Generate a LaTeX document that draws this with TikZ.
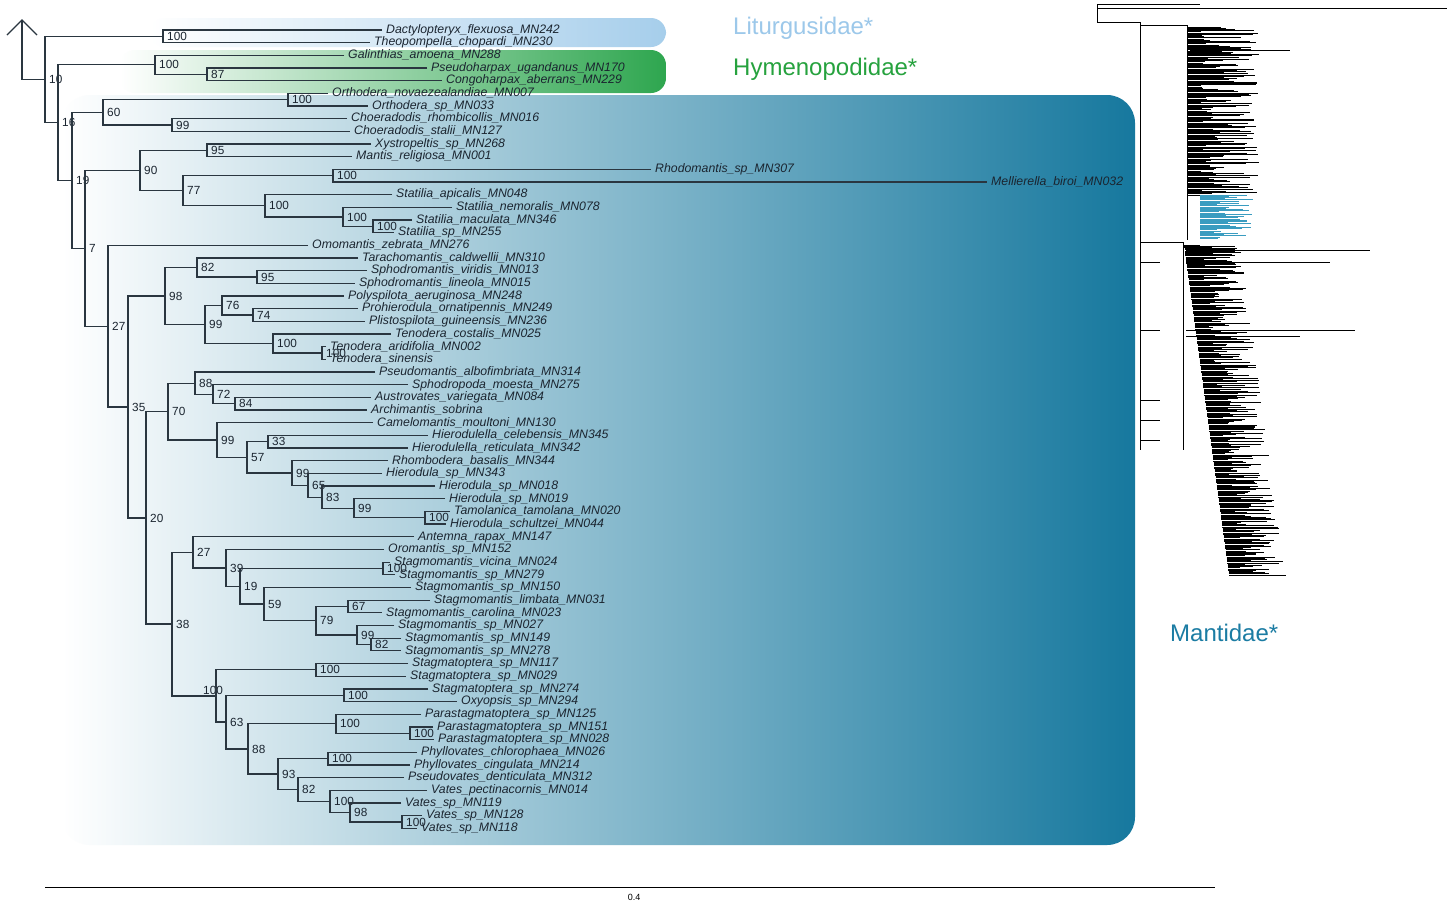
\documentclass[tikz,border=0pt]{standalone}
\usepackage{fontspec}
\setmainfont{Liberation Sans}
\definecolor{brc}{HTML}{2A3640}
\definecolor{txc}{HTML}{1B2530}
\definecolor{mant}{HTML}{16789E}
\definecolor{hym}{HTML}{2EA64F}
\definecolor{lit}{HTML}{A6CEEB}
\definecolor{litt}{HTML}{9CC8EA}
\definecolor{hymt}{HTML}{26A23E}
\definecolor{mantt}{HTML}{1B7CA3}
\definecolor{bluec}{HTML}{3A9CC0}
\tikzset{
 br/.style={draw=brc, line width=1.3pt},
 leaf/.style={anchor=west, inner xsep=4pt, inner ysep=0pt, text height=9pt, text depth=2.5pt, font=\fontsize{12.3}{14}\selectfont\itshape, text=txc},
 bs/.style={anchor=west, inner xsep=1pt, inner ysep=0pt, xshift=3pt, text height=8.2pt, text depth=0pt, font=\fontsize{11.8}{13}\selectfont, text=txc},
 grp/.style={anchor=west, inner sep=0pt, font=\fontsize{24}{28}\selectfont},
 mini/.style={draw=black, line width=0.7pt},
}
\newcommand\lf[4]{\node[leaf] (#1) at ({#2-5},{30+(#3-1)*12.67}) {#4};}
\newcommand\inn[4]{\coordinate (#1) at (#2,#3); \node[bs] (#1lab) at (#1) {#4};}
\newcommand\brk[3]{\draw[br] (#2) -| (#1) |- (#3);}
\begin{document}
\begin{tikzpicture}[x=1pt,y=-1pt]
\useasboundingbox (0,0) rectangle (1453,903);
\fill[white] (0,0) rectangle (1453,903);
% clade boxes
\shade[rounded corners=15pt, left color=white, right color=lit] (150,18) rectangle (666,47);
\shade[rounded corners=15pt, left color=white, right color=hym] (120,50) rectangle (666,93);
\shade[rounded corners=28pt, left color=white, middle color=mant!60, right color=mant] (62,95) rectangle (1135,845);
\node[grp, text=litt] (gL) at (733,28) {Liturgusidae*};
\node[grp, text=hymt] (gH) at (733,69) {Hymenopodidae*};
\node[grp, text=mantt] (gM) at (1170,633) {Mantidae*};
% leaves
\lf{L1}{387}{1}{Dactylopteryx\_flexuosa\_MN242}
\lf{L2}{375}{2}{Theopompella\_chopardi\_MN230}
\lf{L3}{349}{3}{Galinthias\_amoena\_MN288}
\lf{L4}{432}{4}{Pseudoharpax\_ugandanus\_MN170}
\lf{L5}{447}{5}{Congoharpax\_aberrans\_MN229}
\lf{L6}{333}{6}{Orthodera\_novaezealandiae\_MN007}
\lf{L7}{373}{7}{Orthodera\_sp\_MN033}
\lf{L8}{352}{8}{Choeradodis\_rhombicollis\_MN016}
\lf{L9}{355}{9}{Choeradodis\_stalii\_MN127}
\lf{L10}{376}{10}{Xystropeltis\_sp\_MN268}
\lf{L11}{357}{11}{Mantis\_religiosa\_MN001}
\lf{L12}{656}{12}{Rhodomantis\_sp\_MN307}
\lf{L13}{992}{13}{Mellierella\_biroi\_MN032}
\lf{L14}{397}{14}{Statilia\_apicalis\_MN048}
\lf{L15}{457}{15}{Statilia\_nemoralis\_MN078}
\lf{L16}{417}{16}{Statilia\_maculata\_MN346}
\lf{L17}{399}{17}{Statilia\_sp\_MN255}
\lf{L18}{313}{18}{Omomantis\_zebrata\_MN276}
\lf{L19}{363}{19}{Tarachomantis\_caldwellii\_MN310}
\lf{L20}{372}{20}{Sphodromantis\_viridis\_MN013}
\lf{L21}{360}{21}{Sphodromantis\_lineola\_MN015}
\lf{L22}{349}{22}{Polyspilota\_aeruginosa\_MN248}
\lf{L23}{363}{23}{Prohierodula\_ornatipennis\_MN249}
\lf{L24}{370}{24}{Plistospilota\_guineensis\_MN236}
\lf{L25}{396}{25}{Tenodera\_costalis\_MN025}
\lf{L26}{331}{26}{Tenodera\_aridifolia\_MN002}
\lf{L27}{331}{27}{Tenodera\_sinensis}
\lf{L28}{380}{28}{Pseudomantis\_albofimbriata\_MN314}
\lf{L29}{413}{29}{Sphodropoda\_moesta\_MN275}
\lf{L30}{376}{30}{Austrovates\_variegata\_MN084}
\lf{L31}{372}{31}{Archimantis\_sobrina}
\lf{L32}{378}{32}{Camelomantis\_moultoni\_MN130}
\lf{L33}{433}{33}{Hierodulella\_celebensis\_MN345}
\lf{L34}{413}{34}{Hierodulella\_reticulata\_MN342}
\lf{L35}{393}{35}{Rhombodera\_basalis\_MN344}
\lf{L36}{387}{36}{Hierodula\_sp\_MN343}
\lf{L37}{440}{37}{Hierodula\_sp\_MN018}
\lf{L38}{450}{38}{Hierodula\_sp\_MN019}
\lf{L39}{455}{39}{Tamolanica\_tamolana\_MN020}
\lf{L40}{451}{40}{Hierodula\_schultzei\_MN044}
\lf{L41}{419}{41}{Antemna\_rapax\_MN147}
\lf{L42}{389}{42}{Oromantis\_sp\_MN152}
\lf{L43}{395}{43}{Stagmomantis\_vicina\_MN024}
\lf{L44}{400}{44}{Stagmomantis\_sp\_MN279}
\lf{L45}{416}{45}{Stagmomantis\_sp\_MN150}
\lf{L46}{435}{46}{Stagmomantis\_limbata\_MN031}
\lf{L47}{387}{47}{Stagmomantis\_carolina\_MN023}
\lf{L48}{399}{48}{Stagmomantis\_sp\_MN027}
\lf{L49}{406}{49}{Stagmomantis\_sp\_MN149}
\lf{L50}{406}{50}{Stagmomantis\_sp\_MN278}
\lf{L51}{413}{51}{Stagmatoptera\_sp\_MN117}
\lf{L52}{411}{52}{Stagmatoptera\_sp\_MN029}
\lf{L53}{433}{53}{Stagmatoptera\_sp\_MN274}
\lf{L54}{462}{54}{Oxyopsis\_sp\_MN294}
\lf{L55}{426}{55}{Parastagmatoptera\_sp\_MN125}
\lf{L56}{438}{56}{Parastagmatoptera\_sp\_MN151}
\lf{L57}{439}{57}{Parastagmatoptera\_sp\_MN028}
\lf{L58}{422}{58}{Phyllovates\_chlorophaea\_MN026}
\lf{L59}{415}{59}{Phyllovates\_cingulata\_MN214}
\lf{L60}{409}{60}{Pseudovates\_denticulata\_MN312}
\lf{L61}{432}{61}{Vates\_pectinacornis\_MN014}
\lf{L62}{406}{62}{Vates\_sp\_MN119}
\lf{L63}{427}{63}{Vates\_sp\_MN128}
\lf{L64}{422}{64}{Vates\_sp\_MN118}
% internal nodes
\inn{nL}{163}{36.3}{100}
\inn{n87}{207}{74.3}{87}
\inn{nH}{155}{64.8}{100}
\inn{nO}{288}{99.7}{100}
\inn{nC}{172}{125.0}{99}
\inn{n60}{103}{112.4}{60}
\inn{n95}{207}{150.4}{95}
\inn{nRM}{333}{175.7}{100}
\inn{nStc}{373}{226.4}{100}
\inn{nStb}{343}{216.9}{100}
\inn{nSta}{265}{205.8}{100}
\inn{n77}{183}{190.8}{77}
\inn{n90}{140}{170.6}{90}
\inn{nSph}{257}{277.1}{95}
\inn{n82}{197}{267.6}{82}
\inn{n74}{253}{315.1}{74}
\inn{n76}{222}{305.6}{76}
\inn{nTenb}{322}{353.1}{100}
\inn{nTena}{273}{343.6}{100}
\inn{n99a}{205}{324.6}{99}
\inn{n98}{165}{296.1}{98}
\inn{n84}{235}{403.8}{84}
\inn{n72}{213}{394.3}{72}
\inn{n88}{195}{383.2}{88}
\inn{n33}{268}{441.8}{33}
\inn{nTam}{425}{517.8}{100}
\inn{n99c}{354}{508.3}{99}
\inn{n83}{322}{497.2}{83}
\inn{n65}{308}{485.3}{65}
\inn{n99b}{292}{473.0}{99}
\inn{n57}{247}{457.4}{57}
\inn{n99d}{217}{440.1}{99}
\inn{n70}{168}{411.7}{70}
\inn{nSv}{383}{568.5}{100}
\inn{n82b}{371}{644.5}{82}
\inn{n99e}{357}{635.0}{99}
\inn{n67}{348}{606.5}{67}
\inn{n79}{316}{620.7}{79}
\inn{n59}{264}{604.1}{59}
\inn{n19b}{240}{586.3}{19}
\inn{n39}{226}{567.9}{39}
\inn{n27b}{193}{552.3}{27}
\inn{nSga}{316}{669.8}{100}
\inn{nSgb}{344}{695.2}{100}
\inn{nPsb}{410}{733.2}{100}
\inn{nPsa}{336}{723.7}{100}
\inn{nPh}{328}{758.5}{100}
\inn{nVc}{402}{821.9}{100}
\inn{n98b}{350}{812.4}{98}
\inn{nVa}{330}{801.3}{100}
\inn{n82c}{298}{789.4}{82}
\inn{n93}{278}{774.0}{93}
\inn{n88b}{248}{748.9}{88}
\inn{n63}{226}{722.0}{63}
\coordinate (nS) at (216,695.9); \node[bs] (nSlab) at (199,690) {100};
\inn{n38}{172}{624.1}{38}
\inn{n20}{146}{517.9}{20}
\inn{n35}{128}{407.0}{35}
\inn{n27}{108}{326.2}{27}
\inn{n7}{85}{248.4}{7}
\inn{n19}{72}{180.4}{19}
\inn{n16}{58}{122.6}{16}
\inn{n10}{45}{79.5}{10}
\coordinate (root) at (22,79.5);
\coordinate (tip) at (22,20);
\coordinate (al) at (7,35);
\coordinate (ar) at (37,35);
% branches
\draw[br] (al) -- (tip) -- (ar);
\draw[br] (tip) -- (root) -- (n10);
\brk{n10}{nL}{n16}
\brk{nL}{L1.west}{L2.west}
\brk{n16}{nH}{n19}
\brk{nH}{L3.west}{n87}
\brk{n87}{L4.west}{L5.west}
\brk{n19}{n60}{n7}
\brk{n60}{nO}{nC}
\brk{nO}{L6.west}{L7.west}
\brk{nC}{L8.west}{L9.west}
\brk{n7}{n90}{n27}
\brk{n90}{n95}{n77}
\brk{n95}{L10.west}{L11.west}
\brk{n77}{nRM}{nSta}
\brk{nRM}{L12.west}{L13.west}
\brk{nSta}{L14.west}{nStb}
\brk{nStb}{L15.west}{nStc}
\brk{nStc}{L16.west}{L17.west}
\brk{n27}{L18.west}{n35}
\brk{n35}{n98}{n20}
\brk{n98}{n82}{n99a}
\brk{n82}{L19.west}{nSph}
\brk{nSph}{L20.west}{L21.west}
\brk{n99a}{n76}{nTena}
\brk{n76}{L22.west}{n74}
\brk{n74}{L23.west}{L24.west}
\brk{nTena}{L25.west}{nTenb}
\brk{nTenb}{L26.west}{L27.west}
\brk{n20}{n70}{n38}
\brk{n70}{n88}{n99d}
\brk{n88}{L28.west}{n72}
\brk{n72}{L29.west}{n84}
\brk{n84}{L30.west}{L31.west}
\brk{n99d}{L32.west}{n57}
\brk{n57}{n33}{n99b}
\brk{n33}{L33.west}{L34.west}
\brk{n99b}{L35.west}{n65}
\brk{n65}{L36.west}{n83}
\brk{n83}{L37.west}{n99c}
\brk{n99c}{L38.west}{nTam}
\brk{nTam}{L39.west}{L40.west}
\brk{n38}{n27b}{nS}
\brk{n27b}{L41.west}{n39}
\brk{n39}{L42.west}{n19b}
\brk{n19b}{nSv}{n59}
\brk{nSv}{L43.west}{L44.west}
\brk{n59}{L45.west}{n79}
\brk{n79}{n67}{n99e}
\brk{n67}{L46.west}{L47.west}
\brk{n99e}{L48.west}{n82b}
\brk{n82b}{L49.west}{L50.west}
\brk{nS}{nSga}{n63}
\brk{nSga}{L51.west}{L52.west}
\brk{n63}{nSgb}{n88b}
\brk{nSgb}{L53.west}{L54.west}
\brk{n88b}{nPsa}{n93}
\brk{nPsa}{L55.west}{nPsb}
\brk{nPsb}{L56.west}{L57.west}
\brk{n93}{nPh}{n82c}
\brk{nPh}{L58.west}{L59.west}
\brk{n82c}{L60.west}{nVa}
\brk{nVa}{L61.west}{n98b}
\brk{n98b}{L62.west}{nVc}
\brk{nVc}{L63.west}{L64.west}
% scale bar
\coordinate (sa) at (45,887);
\coordinate (sb) at (1215,887);
\draw[draw=black, line width=0.8pt] (sa) -- (sb);
\node[font=\fontsize{9}{10}\selectfont, inner sep=0pt] (sc) at (634,897) {0.4};
% mini overview tree
\pgfmathsetseed{12}
\draw[mini] (1097,4) -- (1097,22);
\draw[mini] (1097,4) -- (1200,4);
\draw[mini] (1097,8) -- (1447,8);
\draw[mini] (1097,22) -- (1140,22);
\draw[mini] (1140,22) -- (1140,450);
\draw[mini] (1140,25) -- (1187,25);
\draw[mini] (1187,25) -- (1187,240);
\foreach \i in {0,...,140} {
  \pgfmathsetmacro\yy{27+\i*1.2}
  \pgfmathsetmacro\xe{1200+60*rnd}
  \draw[mini] (1188,\yy) -- (\xe,\yy);
}
\foreach \i in {0,...,36} {
  \pgfmathsetmacro\yy{195+\i*1.2}
  \pgfmathsetmacro\xe{1212+42*rnd}
  \draw[draw=bluec, line width=0.7pt] (1200,\yy) -- (\xe,\yy);
}
\draw[mini] (1140,242) -- (1183,242);
\draw[mini] (1183,242) -- (1183,450);
\foreach \i in {0,...,275} {
  \pgfmathsetmacro\yy{245+\i*1.2}
  \pgfmathsetmacro\xs{1184+(\yy-245)/330*45}
  \pgfmathsetmacro\xe{\xs+12+45*rnd}
  \draw[mini] (\xs,\yy) -- (\xe,\yy);
}
\draw[mini] (1186,250) -- (1370,250);
\draw[mini] (1186,262) -- (1330,262);
\draw[mini] (1186,330) -- (1355,330);
\draw[mini] (1186,336) -- (1300,336);
\draw[mini] (1190,50) -- (1290,50);
\foreach \yy in {242,262,330,400,420,440} {
  \draw[mini] (1140,\yy) -- (1160,\yy);
}
\end{tikzpicture}
\end{document}
